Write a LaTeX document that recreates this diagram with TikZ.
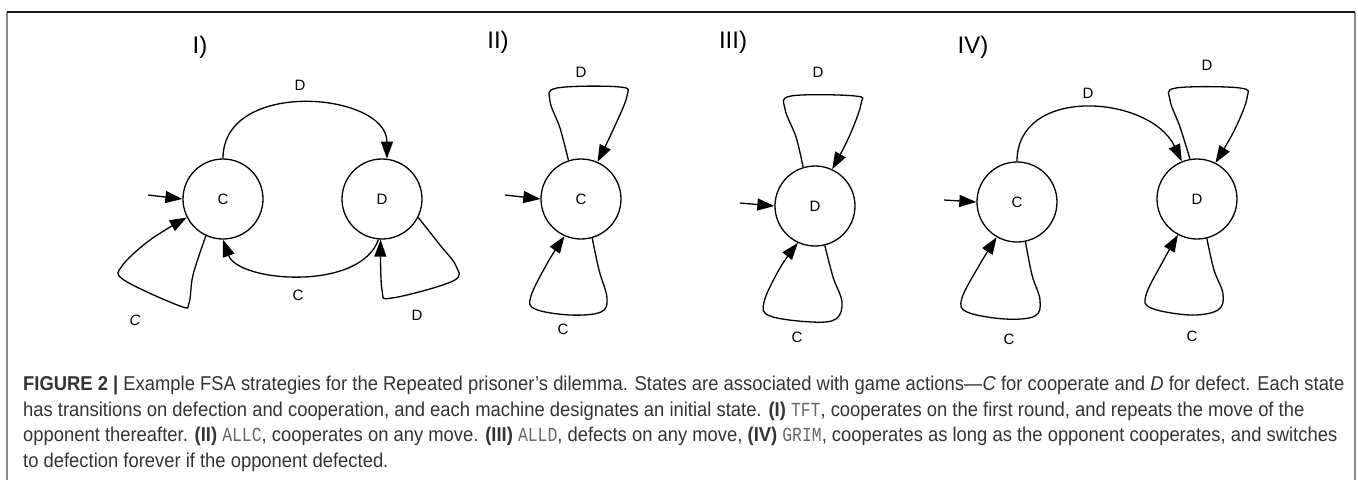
\documentclass[tikz,border=0pt]{standalone}
\usepackage{fontspec}
\setmainfont{Liberation Sans}
\setmonofont{Liberation Mono}
\newfontfamily\capfont[FakeStretch=0.92]{Liberation Sans}
\newfontfamily\capmono[FakeStretch=0.82]{Liberation Mono}
\usepackage{tikz}
\usetikzlibrary{arrows.meta, positioning}
\newcommand{\strat}[1]{{\capmono\color{black!60}#1}}
\tikzset{
    fsastate/.style={draw, circle, line width=1.3pt, minimum size=80pt, inner sep=0pt, font=\fontsize{15}{18}\selectfont},
    trans/.style={line width=1.3pt, -{Triangle[length=17pt,width=12pt]}},
    edgelabel/.style={inner sep=0pt, font=\fontsize{15}{18}\selectfont},
    panel/.style={inner sep=0pt, font=\fontsize{24}{28}\selectfont},
    loopline/.style={trans, smooth, tension=0.6},
}

\begin{document}
\begin{tikzpicture}[x=1pt, y=-1pt]
                \useasboundingbox (0,0) rectangle (1358,480);
                \draw[black!45, line width=1.5pt] (7,480) -- (7,12);
                \draw[black!45, line width=1.5pt] (1355,12) -- (1355,480);
                \draw[black!90, line width=1.2pt] (7,12) -- (1355,12);

                \node[panel] (p1) at (200,47) {I)};
                \node[panel] (p2) at (498,42) {II)};
                \node[panel] (p3) at (733,42) {III)};
                \node[panel] (p4) at (973,47) {IV)};

                \node[fsastate] (c1) at (223,199) {C};
                \node[fsastate] (d1) at (382,199) {D};
                \node[fsastate] (c2) at (581,199) {C};
                \node[fsastate] (d3) at (815,206) {D};
                \node[fsastate] (c4) at (1017,202) {C};
                \node[fsastate] (d4) at (1197,199) {D};

                \coordinate (i1) at (148,195);
                \coordinate (i2) at (505,195);
                \coordinate (i3) at (740,203);
                \coordinate (i4) at (944,200);
                \draw[trans] (i1) -- (c1.west);
                \draw[trans] (i2) -- (c2.west);
                \draw[trans] (i3) -- (d3.west);
                \draw[trans] (i4) -- (c4.west);

                \draw[trans] (c1.north) .. controls (223,78) and (387,92) .. (d1.83);
                \draw[trans] (d1.265) .. controls (360,292) and (238,282) .. (c1.south);
                \draw[loopline] plot coordinates {(c1.245) (193,275) (189,303) (180,306) (124,280) (122,266) (150,240) (c1.207)};
                \draw[loopline] plot coordinates {(d1.333) (440,245) (456,266) (453,281) (392,298) (382,290) (d1.268)};
                \node[edgelabel] (l1a) at (300,85) {D};
                \node[edgelabel] (l1b) at (298,295) {C};
                \node[edgelabel] (l1c) at (135,320) {\textit{C}};
                \node[edgelabel] (l1d) at (417,315) {D};

                \draw[loopline] plot coordinates {(c2.108) (560,128) (550,101) (557,88) (620,87) (627,96) (613,130) (c2.66)};
                \draw[loopline] plot coordinates {(c2.286) (599,270) (607,298) (601,312) (570,315) (535,309) (531,296) (548,262) (c2.246)};
                \node[edgelabel] (l2a) at (581,72) {D};
                \node[edgelabel] (l2b) at (563,329) {C};

                \draw[loopline] plot coordinates {(d3.107) (796,137) (785,109) (791,96) (855,96) (861,104) (849,137) (d3.65)};
                \draw[loopline] plot coordinates {(d3.284) (833,277) (842,302) (836,319) (812,322) (770,316) (764,302) (780,268) (d3.245)};
                \node[edgelabel] (l3a) at (818,72) {D};
                \node[edgelabel] (l3b) at (797,337) {C};

                \draw[trans] (c4.north) .. controls (1017,85) and (1150,95) .. (d4.112);
                \draw[loopline] plot coordinates {(d4.100) (1180,127) (1170,100) (1176,88) (1240,88) (1247,98) (1234,131) (d4.63)};
                \draw[loopline] plot coordinates {(c4.282) (1032,275) (1040,300) (1035,316) (1005,319) (967,312) (962,298) (980,264) (c4.240)};
                \draw[loopline] plot coordinates {(d4.284) (1214,270) (1223,294) (1218,310) (1190,315) (1151,308) (1146,295) (1162,263) (d4.242)};
                \node[edgelabel] (l4a) at (1088,93) {D};
                \node[edgelabel] (l4b) at (1207,65) {D};
                \node[edgelabel] (l4c) at (1009,339) {C};
                \node[edgelabel] (l4d) at (1192,336) {C};

                \node[anchor=north west, align=left, inner sep=0pt, text=black!80,
                      font=\capfont\fontsize{20}{25.5}\selectfont] (caption) at (23,376)
                    {\textbf{FIGURE 2 |} Example FSA strategies for the Repeated prisoner’s dilemma. States are associated with game actions—\textit{C} for cooperate and \textit{D} for defect. Each state\\
                     has transitions on defection and cooperation, and each machine designates an initial state. \textbf{(I)} \strat{TFT}, cooperates on the first round, and repeats the move of the\\
                     opponent thereafter. \textbf{(II)} \strat{ALLC}, cooperates on any move. \textbf{(III)} \strat{ALLD}, defects on any move, \textbf{(IV)} \strat{GRIM}, cooperates as long as the opponent cooperates, and switches\\
                     to defection forever if the opponent defected.};
            \end{tikzpicture}
\end{document}
